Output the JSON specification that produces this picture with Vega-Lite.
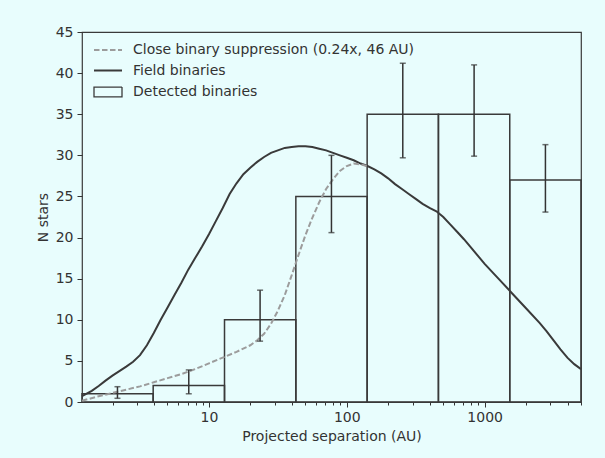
{
  "$schema": "https://vega.github.io/schema/vega-lite/v6.json",
  "width": 499,
  "height": 370,
  "autosize": {"type": "none"},
  "padding": {"left": 82, "top": 32, "right": 24, "bottom": 56},
  "background": "#e8fdfd",
  "config": {
    "font": "DejaVu Sans",
    "view": {"stroke": "#3a3a3a", "strokeWidth": 1.2},
    "axis": {
      "domain": false, "grid": false,
      "labelFont": "DejaVu Sans", "labelFontSize": 14, "labelColor": "#333333",
      "titleFont": "DejaVu Sans", "titleFontSize": 14, "titleFontWeight": "normal", "titleColor": "#333333",
      "tickColor": "#333333", "tickWidth": 1
    },
    "legend": {
      "labelFont": "DejaVu Sans", "labelFontSize": 14, "labelColor": "#333333", "labelLimit": 0
    }
  },
  "datasets": {
    "bins": [
      {"lo": 1.2, "hi": 3.94, "n": 1, "series": "Detected binaries"},
      {"lo": 3.94, "hi": 12.97, "n": 2, "series": "Detected binaries"},
      {"lo": 12.97, "hi": 42.7, "n": 10, "series": "Detected binaries"},
      {"lo": 42.7, "hi": 140.5, "n": 25, "series": "Detected binaries"},
      {"lo": 140.5, "hi": 462, "n": 35, "series": "Detected binaries"},
      {"lo": 462, "hi": 1521, "n": 35, "series": "Detected binaries"},
      {"lo": 1521, "hi": 5000, "n": 27, "series": "Detected binaries"}
    ],
    "field": [
      {"sep": 1.2, "n": 0.7, "series": "Field binaries"},
      {"sep": 1.413, "n": 1.35, "series": "Field binaries"},
      {"sep": 1.585, "n": 1.95, "series": "Field binaries"},
      {"sep": 1.778, "n": 2.6, "series": "Field binaries"},
      {"sep": 1.995, "n": 3.2, "series": "Field binaries"},
      {"sep": 2.239, "n": 3.75, "series": "Field binaries"},
      {"sep": 2.512, "n": 4.3, "series": "Field binaries"},
      {"sep": 2.818, "n": 4.9, "series": "Field binaries"},
      {"sep": 3.162, "n": 5.7, "series": "Field binaries"},
      {"sep": 3.548, "n": 6.9, "series": "Field binaries"},
      {"sep": 3.981, "n": 8.4, "series": "Field binaries"},
      {"sep": 4.467, "n": 10.0, "series": "Field binaries"},
      {"sep": 5.012, "n": 11.5, "series": "Field binaries"},
      {"sep": 5.623, "n": 13.0, "series": "Field binaries"},
      {"sep": 6.31, "n": 14.5, "series": "Field binaries"},
      {"sep": 7.079, "n": 16.1, "series": "Field binaries"},
      {"sep": 7.943, "n": 17.5, "series": "Field binaries"},
      {"sep": 8.913, "n": 18.9, "series": "Field binaries"},
      {"sep": 10, "n": 20.4, "series": "Field binaries"},
      {"sep": 11.22, "n": 22.0, "series": "Field binaries"},
      {"sep": 12.59, "n": 23.6, "series": "Field binaries"},
      {"sep": 14.13, "n": 25.3, "series": "Field binaries"},
      {"sep": 15.85, "n": 26.6, "series": "Field binaries"},
      {"sep": 17.78, "n": 27.7, "series": "Field binaries"},
      {"sep": 19.95, "n": 28.5, "series": "Field binaries"},
      {"sep": 22.39, "n": 29.2, "series": "Field binaries"},
      {"sep": 25.12, "n": 29.8, "series": "Field binaries"},
      {"sep": 28.18, "n": 30.3, "series": "Field binaries"},
      {"sep": 31.62, "n": 30.6, "series": "Field binaries"},
      {"sep": 35.48, "n": 30.9, "series": "Field binaries"},
      {"sep": 39.81, "n": 31.0, "series": "Field binaries"},
      {"sep": 44.67, "n": 31.1, "series": "Field binaries"},
      {"sep": 50.12, "n": 31.1, "series": "Field binaries"},
      {"sep": 56.23, "n": 31.0, "series": "Field binaries"},
      {"sep": 63.1, "n": 30.8, "series": "Field binaries"},
      {"sep": 70.79, "n": 30.6, "series": "Field binaries"},
      {"sep": 79.43, "n": 30.3, "series": "Field binaries"},
      {"sep": 89.13, "n": 30.0, "series": "Field binaries"},
      {"sep": 100, "n": 29.7, "series": "Field binaries"},
      {"sep": 112.2, "n": 29.4, "series": "Field binaries"},
      {"sep": 125.9, "n": 29.0, "series": "Field binaries"},
      {"sep": 141.3, "n": 28.7, "series": "Field binaries"},
      {"sep": 158.5, "n": 28.3, "series": "Field binaries"},
      {"sep": 177.8, "n": 27.8, "series": "Field binaries"},
      {"sep": 199.5, "n": 27.2, "series": "Field binaries"},
      {"sep": 223.9, "n": 26.5, "series": "Field binaries"},
      {"sep": 251.2, "n": 25.9, "series": "Field binaries"},
      {"sep": 281.8, "n": 25.3, "series": "Field binaries"},
      {"sep": 316.2, "n": 24.7, "series": "Field binaries"},
      {"sep": 354.8, "n": 24.1, "series": "Field binaries"},
      {"sep": 398.1, "n": 23.6, "series": "Field binaries"},
      {"sep": 446.7, "n": 23.2, "series": "Field binaries"},
      {"sep": 501.2, "n": 22.5, "series": "Field binaries"},
      {"sep": 562.3, "n": 21.6, "series": "Field binaries"},
      {"sep": 631, "n": 20.7, "series": "Field binaries"},
      {"sep": 707.9, "n": 19.8, "series": "Field binaries"},
      {"sep": 794.3, "n": 18.8, "series": "Field binaries"},
      {"sep": 891.3, "n": 17.8, "series": "Field binaries"},
      {"sep": 1000, "n": 16.8, "series": "Field binaries"},
      {"sep": 1259, "n": 15.0, "series": "Field binaries"},
      {"sep": 1585, "n": 13.2, "series": "Field binaries"},
      {"sep": 1995, "n": 11.4, "series": "Field binaries"},
      {"sep": 2512, "n": 9.6, "series": "Field binaries"},
      {"sep": 2818, "n": 8.6, "series": "Field binaries"},
      {"sep": 3162, "n": 7.5, "series": "Field binaries"},
      {"sep": 3548, "n": 6.4, "series": "Field binaries"},
      {"sep": 3981, "n": 5.4, "series": "Field binaries"},
      {"sep": 4467, "n": 4.6, "series": "Field binaries"},
      {"sep": 5000, "n": 4.0, "series": "Field binaries"}
    ],
    "supp": [
      {"sep": 1.2, "n": 0.15, "series": "Close binary suppression (0.24x, 46 AU)"},
      {"sep": 1.585, "n": 0.7, "series": "Close binary suppression (0.24x, 46 AU)"},
      {"sep": 1.995, "n": 1.1, "series": "Close binary suppression (0.24x, 46 AU)"},
      {"sep": 2.512, "n": 1.5, "series": "Close binary suppression (0.24x, 46 AU)"},
      {"sep": 3.162, "n": 1.9, "series": "Close binary suppression (0.24x, 46 AU)"},
      {"sep": 3.981, "n": 2.4, "series": "Close binary suppression (0.24x, 46 AU)"},
      {"sep": 5.012, "n": 2.9, "series": "Close binary suppression (0.24x, 46 AU)"},
      {"sep": 6.31, "n": 3.4, "series": "Close binary suppression (0.24x, 46 AU)"},
      {"sep": 7.943, "n": 4.0, "series": "Close binary suppression (0.24x, 46 AU)"},
      {"sep": 10, "n": 4.7, "series": "Close binary suppression (0.24x, 46 AU)"},
      {"sep": 12.59, "n": 5.4, "series": "Close binary suppression (0.24x, 46 AU)"},
      {"sep": 15.85, "n": 6.1, "series": "Close binary suppression (0.24x, 46 AU)"},
      {"sep": 19.95, "n": 6.9, "series": "Close binary suppression (0.24x, 46 AU)"},
      {"sep": 22.39, "n": 7.5, "series": "Close binary suppression (0.24x, 46 AU)"},
      {"sep": 25.12, "n": 8.3, "series": "Close binary suppression (0.24x, 46 AU)"},
      {"sep": 28.18, "n": 9.5, "series": "Close binary suppression (0.24x, 46 AU)"},
      {"sep": 31.62, "n": 11.1, "series": "Close binary suppression (0.24x, 46 AU)"},
      {"sep": 35.48, "n": 13.0, "series": "Close binary suppression (0.24x, 46 AU)"},
      {"sep": 39.81, "n": 15.4, "series": "Close binary suppression (0.24x, 46 AU)"},
      {"sep": 44.67, "n": 17.9, "series": "Close binary suppression (0.24x, 46 AU)"},
      {"sep": 50.12, "n": 20.3, "series": "Close binary suppression (0.24x, 46 AU)"},
      {"sep": 56.23, "n": 22.4, "series": "Close binary suppression (0.24x, 46 AU)"},
      {"sep": 63.1, "n": 24.3, "series": "Close binary suppression (0.24x, 46 AU)"},
      {"sep": 70.79, "n": 25.9, "series": "Close binary suppression (0.24x, 46 AU)"},
      {"sep": 79.43, "n": 27.1, "series": "Close binary suppression (0.24x, 46 AU)"},
      {"sep": 89.13, "n": 28.1, "series": "Close binary suppression (0.24x, 46 AU)"},
      {"sep": 100, "n": 28.7, "series": "Close binary suppression (0.24x, 46 AU)"},
      {"sep": 112.2, "n": 29.0, "series": "Close binary suppression (0.24x, 46 AU)"},
      {"sep": 125.9, "n": 28.9, "series": "Close binary suppression (0.24x, 46 AU)"},
      {"sep": 140.3, "n": 28.7, "series": "Close binary suppression (0.24x, 46 AU)"}
    ],
    "err": [
      {"sep": 2.17, "lo": 0.45, "hi": 1.86},
      {"sep": 7.14, "lo": 1.0, "hi": 3.9},
      {"sep": 23.5, "lo": 7.4, "hi": 13.6},
      {"sep": 77.4, "lo": 20.6, "hi": 30.0},
      {"sep": 254.8, "lo": 29.7, "hi": 41.2},
      {"sep": 838.6, "lo": 29.9, "hi": 41.0},
      {"sep": 2760, "lo": 23.1, "hi": 31.3}
    ]
  },
  "layer": [
    {
      "data": {"name": "bins"},
      "mark": {"type": "rect", "fill": "transparent", "strokeWidth": 1.5},
      "encoding": {
        "x": {
          "field": "lo", "type": "quantitative",
          "scale": {"type": "log", "domain": [1.2, 5000], "nice": false},
          "title": "Projected separation (AU)",
          "axis": {
            "values": [2,3,4,5,6,7,8,9,10,20,30,40,50,60,70,80,90,100,200,300,400,500,600,700,800,900,1000,2000,3000,4000,5000],
            "format": "d",
            "labelExpr": "indexof([10,100,1000], datum.value) >= 0 ? datum.label : ''",
            "labelOverlap": false, "labelFlush": false,
            "tickSize": {"condition": {"test": "indexof([10,100,1000], datum.value) >= 0", "value": 5}, "value": 3},
            "labelPadding": 3, "titlePadding": 5
          }
        },
        "x2": {"field": "hi"},
        "y": {
          "field": "n", "type": "quantitative",
          "scale": {"domain": [0, 45], "nice": false},
          "title": "N stars",
          "axis": {"values": [0,5,10,15,20,25,30,35,40,45], "tickSize": 5, "labelPadding": 4, "titlePadding": 5}
        },
        "y2": {"datum": 0},
        "stroke": {
          "field": "series", "type": "nominal",
          "scale": {
            "domain": ["Close binary suppression (0.24x, 46 AU)", "Field binaries", "Detected binaries"],
            "range": ["#9c9c9c", "#3a3a3a", "#3a3a3a"]
          },
          "legend": {
            "title": null, "orient": "none", "legendX": 19, "legendY": 11, "padding": 0,
            "symbolSize": 196, "labelOffset": 18, "rowPadding": 6.5, "symbolStrokeWidth": 2,
            "symbolType": "M-2,0H2",
            "encode": {
              "symbols": {
                "update": {
                  "shape": {"signal": "datum.value === 'Detected binaries' ? 'M-2,-0.7H2V0.7H-2Z' : 'M-2,0H2'"},
                  "strokeDash": {"signal": "datum.value === 'Close binary suppression (0.24x, 46 AU)' ? [5.5,2.5] : [1,0]"},
                  "strokeWidth": {"signal": "datum.value === 'Detected binaries' ? 1.3 : 2"},
                  "fill": {"value": "transparent"}
                }
              }
            }
          }
        }
      }
    },
    {
      "data": {"name": "field"},
      "mark": {"type": "line", "strokeWidth": 2},
      "encoding": {
        "x": {"field": "sep", "type": "quantitative"},
        "y": {"field": "n", "type": "quantitative"},
        "stroke": {
          "field": "series", "type": "nominal",
          "legend": {
            "title": null, "orient": "none", "legendX": 19, "legendY": 11, "padding": 0,
            "symbolSize": 196, "labelOffset": 18, "rowPadding": 6.5, "symbolStrokeWidth": 2,
            "symbolType": "M-2,0H2",
            "encode": {
              "symbols": {
                "update": {
                  "shape": {"signal": "datum.value === 'Detected binaries' ? 'M-2,-0.7H2V0.7H-2Z' : 'M-2,0H2'"},
                  "strokeDash": {"signal": "datum.value === 'Close binary suppression (0.24x, 46 AU)' ? [5.5,2.5] : [1,0]"},
                  "strokeWidth": {"signal": "datum.value === 'Detected binaries' ? 1.3 : 2"},
                  "fill": {"value": "transparent"}
                }
              }
            }
          }
        }
      }
    },
    {
      "data": {"name": "supp"},
      "mark": {"type": "line", "strokeWidth": 2, "strokeDash": [5.5, 2.5]},
      "encoding": {
        "x": {"field": "sep", "type": "quantitative"},
        "y": {"field": "n", "type": "quantitative"},
        "stroke": {
          "field": "series", "type": "nominal",
          "legend": {
            "title": null, "orient": "none", "legendX": 19, "legendY": 11, "padding": 0,
            "symbolSize": 196, "labelOffset": 18, "rowPadding": 6.5, "symbolStrokeWidth": 2,
            "symbolType": "M-2,0H2",
            "encode": {
              "symbols": {
                "update": {
                  "shape": {"signal": "datum.value === 'Detected binaries' ? 'M-2,-0.7H2V0.7H-2Z' : 'M-2,0H2'"},
                  "strokeDash": {"signal": "datum.value === 'Close binary suppression (0.24x, 46 AU)' ? [5.5,2.5] : [1,0]"},
                  "strokeWidth": {"signal": "datum.value === 'Detected binaries' ? 1.3 : 2"},
                  "fill": {"value": "transparent"}
                }
              }
            }
          }
        }
      }
    },
    {
      "data": {"name": "err"},
      "mark": {"type": "rule", "color": "#333333", "strokeWidth": 1.5},
      "encoding": {
        "x": {"field": "sep", "type": "quantitative"},
        "y": {"field": "lo", "type": "quantitative"},
        "y2": {"field": "hi"}
      }
    },
    {
      "data": {"name": "err"},
      "mark": {"type": "tick", "orient": "horizontal", "size": 6, "thickness": 1.5, "color": "#333333"},
      "encoding": {
        "x": {"field": "sep", "type": "quantitative"},
        "y": {"field": "lo", "type": "quantitative"}
      }
    },
    {
      "data": {"name": "err"},
      "mark": {"type": "tick", "orient": "horizontal", "size": 6, "thickness": 1.5, "color": "#333333"},
      "encoding": {
        "x": {"field": "sep", "type": "quantitative"},
        "y": {"field": "hi", "type": "quantitative"}
      }
    }
  ]
}
